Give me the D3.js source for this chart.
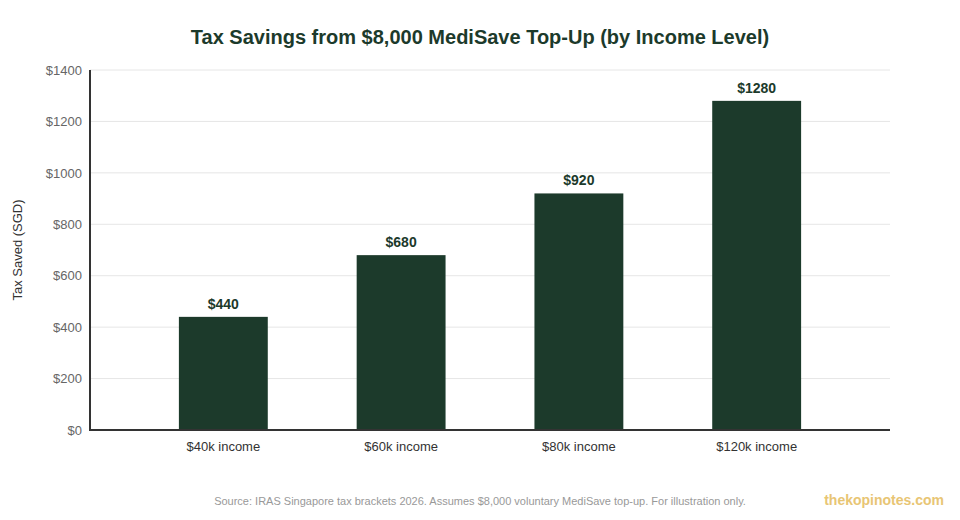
<!DOCTYPE html>
<html>
<head>
<meta charset="utf-8">
<script src="https://cdn.jsdelivr.net/npm/d3@7"></script>
<style>
  body { margin: 0; background: #fff; font-family: "Liberation Sans", Arial, sans-serif; }
</style>
</head>
<body>
<svg id="chart" width="960" height="520"></svg>
<script>
const categories = ["$40k income", "$60k income", "$80k income", "$120k income"];
const taxSaved = [440, 680, 920, 1280];
const yTicks = [0, 200, 400, 600, 800, 1000, 1200, 1400];

const margin = { top: 70, right: 70, bottom: 90, left: 90 };
const W = 960, H = 520;
const width = W - margin.left - margin.right;
const height = H - margin.top - margin.bottom;
const green = "#1c3a2b";

const svg = d3.select("#chart");

svg.append("text")
  .attr("x", W / 2).attr("y", 44)
  .attr("text-anchor", "middle")
  .attr("font-size", 20).attr("font-weight", "bold")
  .attr("fill", green)
  .text("Tax Savings from $8,000 MediSave Top-Up (by Income Level)");

const g = svg.append("g").attr("transform", `translate(${margin.left},${margin.top})`);

const x = d3.scaleBand().domain(categories).range([0, width]).padding(0.5);
const y = d3.scaleLinear().domain([0, 1400]).range([height, 0]);

// gridlines
g.append("g")
  .selectAll("line")
  .data(yTicks)
  .join("line")
  .attr("x1", 0).attr("x2", width)
  .attr("y1", d => y(d)).attr("y2", d => y(d))
  .attr("stroke", "#e6e6e6").attr("stroke-width", 1);

// y axis labels
const yAxis = g.append("g")
  .call(d3.axisLeft(y).tickValues(yTicks).tickFormat(d => "$" + d).tickSize(0).tickPadding(8));
yAxis.select(".domain").remove();
yAxis.selectAll("text")
  .attr("font-family", "Liberation Sans, Arial, sans-serif")
  .attr("font-size", 13).attr("fill", "#666");

// bars
g.selectAll(".bar")
  .data(taxSaved)
  .join("rect")
  .attr("class", "bar")
  .attr("x", (d, i) => x(categories[i]))
  .attr("y", d => y(d))
  .attr("width", x.bandwidth())
  .attr("height", d => height - y(d))
  .attr("fill", green);

// value labels
g.selectAll(".val")
  .data(taxSaved)
  .join("text")
  .attr("class", "val")
  .attr("x", (d, i) => x(categories[i]) + x.bandwidth() / 2)
  .attr("y", d => y(d) - 8)
  .attr("text-anchor", "middle")
  .attr("font-size", 14).attr("font-weight", "bold")
  .attr("fill", green)
  .text(d => "$" + d);

// x axis
const xAxis = g.append("g")
  .attr("transform", `translate(0,${height})`)
  .call(d3.axisBottom(x).tickSize(0).tickPadding(12));
xAxis.select(".domain").remove();
xAxis.selectAll("text")
  .attr("font-family", "Liberation Sans, Arial, sans-serif")
  .attr("font-size", 13).attr("fill", "#333");

// axis lines
g.append("line")
  .attr("x1", 0).attr("x2", 0).attr("y1", 0).attr("y2", height + 1)
  .attr("stroke", "#333").attr("stroke-width", 2);
g.append("line")
  .attr("x1", -1).attr("x2", width).attr("y1", height).attr("y2", height)
  .attr("stroke", "#333").attr("stroke-width", 2);

// y axis title
svg.append("text")
  .attr("transform", `translate(22,${margin.top + height / 2}) rotate(-90)`)
  .attr("text-anchor", "middle")
  .attr("font-size", 13).attr("fill", "#333")
  .text("Tax Saved (SGD)");

// footer
svg.append("text")
  .attr("x", W / 2).attr("y", 505)
  .attr("text-anchor", "middle")
  .attr("font-size", 11).attr("fill", "#999")
  .text("Source: IRAS Singapore tax brackets 2026. Assumes $8,000 voluntary MediSave top-up. For illustration only.");

svg.append("text")
  .attr("x", 944).attr("y", 505)
  .attr("text-anchor", "end")
  .attr("font-size", 14).attr("font-weight", "bold")
  .attr("fill", "#e8c574")
  .text("thekopinotes.com");
</script>
</body>
</html>
